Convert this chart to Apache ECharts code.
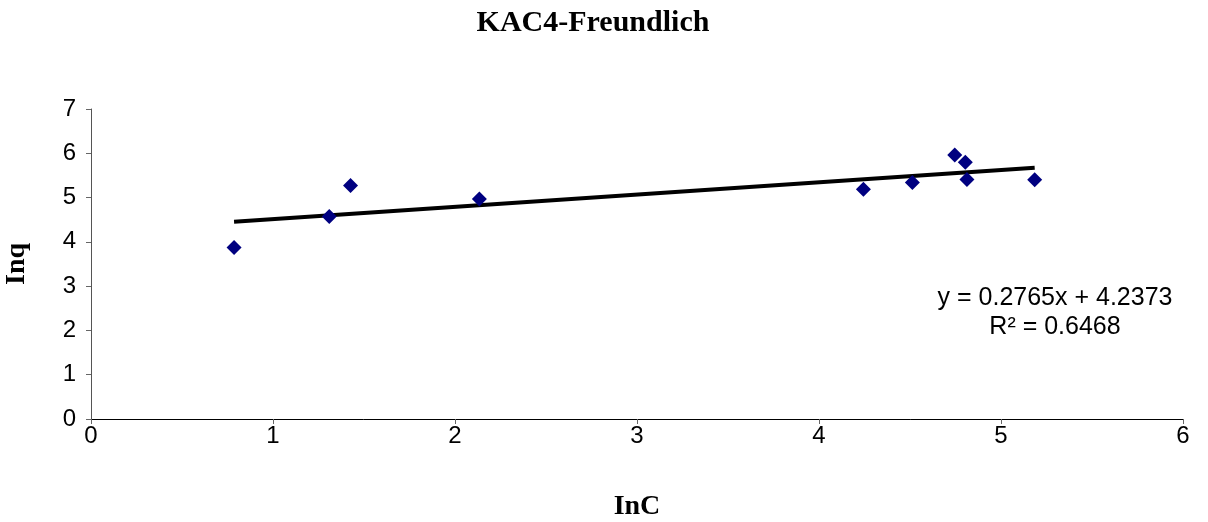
<!DOCTYPE html>
<html><head><meta charset="utf-8">
<script src="https://cdn.jsdelivr.net/npm/echarts@6/dist/echarts.min.js"></script>
<style>html,body{margin:0;padding:0;background:#fff}#c{width:1208px;height:522px}</style>
</head><body><div id="c"></div>
<script>
const lnC = [0.786, 1.309, 1.426, 2.134, 4.244, 4.513, 4.746, 4.804, 4.813, 5.185];
const lnq = [3.87, 4.57, 5.27, 4.97, 5.19, 5.34, 5.96, 5.80, 5.41, 5.40];
const slope = 0.2765;
const intercept = 4.2373;
const rSquared = 0.6468;
const titleText = 'KAC4-Freundlich';
const xName = 'InC';
const yName = 'Inq';

const pts = lnC.map((x, i) => [x, lnq[i]]);
const xMin = Math.min(...lnC), xMax = Math.max(...lnC);
const trend = [[xMin, intercept + slope * xMin], [xMax, intercept + slope * xMax]];

const chart = echarts.init(document.getElementById('c'), null, {renderer: 'canvas'});
const axisFont = {fontFamily: 'Liberation Sans, Arial', fontSize: 24, color: '#000'};
const nameFont = {fontFamily: 'Liberation Serif, Times New Roman', fontWeight: 'bold', fontSize: 28, color: '#000'};
chart.setOption({
  animation: false,
  title: {text: titleText, left: 588, top: 3, textAlign: 'center',
    textStyle: {fontFamily: 'Liberation Serif, Times New Roman', fontWeight: 'bold', fontSize: 30, color: '#000'}},
  grid: {left: 91, right: 25, top: 109, bottom: 103, containLabel: false, outerBoundsMode: 'none'},
  xAxis: {type: 'value', min: 0, max: 6, interval: 1,
    name: xName, nameLocation: 'middle', nameGap: 74, nameTextStyle: nameFont,
    axisLine: {show: true, lineStyle: {color: '#000', width: 1}},
    axisTick: {show: true, length: 5, lineStyle: {color: '#666'}},
    axisLabel: Object.assign({margin: 5}, axisFont),
    splitLine: {show: false}},
  yAxis: {type: 'value', min: 0, max: 7, interval: 1,
    name: yName, nameLocation: 'middle', nameGap: 60, nameRotate: 90, nameTextStyle: nameFont,
    axisLine: {show: true, lineStyle: {color: '#555', width: 1}},
    axisTick: {show: true, length: 5, lineStyle: {color: '#666'}},
    axisLabel: Object.assign({margin: 15}, axisFont),
    splitLine: {show: false}},
  series: [
    {type: 'line', data: trend, symbol: 'none', lineStyle: {color: '#000', width: 4}, z: 2},
    {type: 'scatter', data: pts, symbol: 'diamond', symbolSize: [15, 15],
      itemStyle: {color: '#000080', opacity: 1}, z: 3}
  ],
  graphic: [
    {type: 'text', x: 1055, y: 298, style: {text: 'y = ' + slope + 'x + ' + intercept,
      align: 'center', verticalAlign: 'middle',
      fontFamily: 'Liberation Sans, Arial', fontSize: 25, fill: '#000'}},
    {type: 'text', x: 1055, y: 327, style: {text: 'R² = ' + rSquared,
      align: 'center', verticalAlign: 'middle',
      fontFamily: 'Liberation Sans, Arial', fontSize: 25, fill: '#000'}}
  ]
});
</script></body></html>
